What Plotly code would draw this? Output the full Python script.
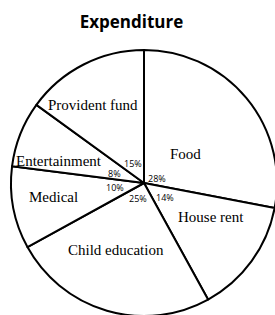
import plotly.graph_objects as go

# ---- data ----
categories = ["Food", "House rent", "Child education", "Medical", "Entertainment", "Provident fund"]
shares = [28, 14, 25, 10, 8, 15]
title_text = "Expenditure"

# ---- layout / style (pixel positions of text, not data) ----
W, H = 280, 320
name_pos = {
    "Food": (185, 154),
    "House rent": (211, 217),
    "Child education": (116, 250),
    "Medical": (53, 197),
    "Entertainment": (59, 161),
    "Provident fund": (93, 105),
}
pct_pos = {
    "Food": (157, 178),
    "House rent": (165, 197),
    "Child education": (138, 198),
    "Medical": (115, 187),
    "Entertainment": (114, 173),
    "Provident fund": (133, 163),
}

fig = go.Figure(
    go.Pie(
        labels=categories,
        values=shares,
        sort=False,
        direction="clockwise",
        rotation=0,
        textinfo="none",
        hoverinfo="label+percent",
        marker=dict(colors=["white"] * len(categories), line=dict(color="black", width=2)),
        domain=dict(x=[11 / W, 277 / W], y=[(H - 316) / H, (H - 50) / H]),
        showlegend=False,
    )
)

anns = []
for c, v in zip(categories, shares):
    x, y = name_pos[c]
    anns.append(dict(x=x / W, y=1 - y / H, xref="paper", yref="paper", text=c, showarrow=False,
                     xanchor="center", yanchor="middle",
                     font=dict(family="Liberation Serif", size=15, color="black")))
    x, y = pct_pos[c]
    anns.append(dict(x=x / W, y=1 - y / H, xref="paper", yref="paper", text=f"{v}%", showarrow=False,
                     xanchor="center", yanchor="middle",
                     font=dict(family="Open Sans", size=9, color="black")))

fig.update_layout(
    width=W, height=H,
    margin=dict(l=0, r=0, t=0, b=0),
    paper_bgcolor="white", plot_bgcolor="white",
    title=dict(text=f"<b>{title_text}</b>", x=131.5 / W, y=1 - 22 / H, xanchor="center", yanchor="middle",
               font=dict(family="Open Sans", size=17, color="black")),
    annotations=anns,
)

fig.write_html("out.html", config={"displayModeBar": False},
               post_script="document.body.style.margin='0';document.body.style.overflow='hidden';")
